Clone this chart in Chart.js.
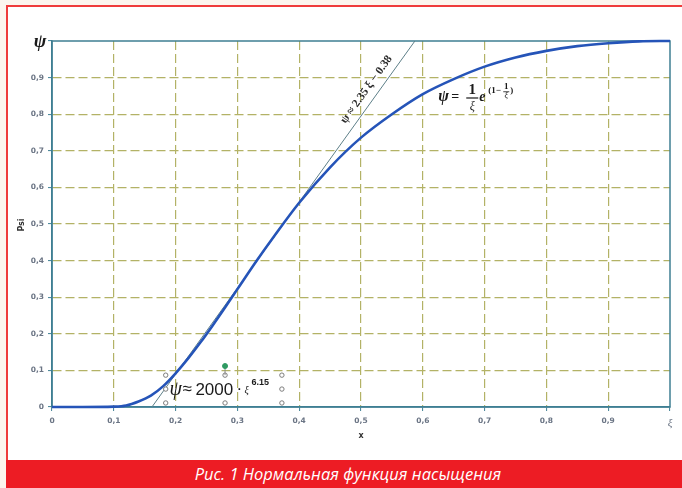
<!DOCTYPE html>
<html>
<head>
<meta charset="utf-8">
<script src="https://cdn.jsdelivr.net/npm/chart.js@4/dist/chart.umd.min.js"></script>
<style>
  html, body { margin: 0; padding: 0; }
  body { width: 682px; height: 488px; background: #fcf5ee; position: relative; overflow: hidden; }
  #frame { position: absolute; left: 6px; top: 5px; width: 676px; height: 455px;
           background: #ffffff; border-left: 2px solid #ef3b3b; border-top: 2px solid #ef3b3b; box-sizing: border-box; }
  #chart { position: absolute; left: 0; top: 0; }
  #caption { position: absolute; left: 6px; top: 460px; width: 676px; height: 28px; background: #ed1c24;
             color: #ffffff; font: italic 16.5px "Open Sans", "Lato", sans-serif; text-align: center;
             line-height: 28px; box-sizing: border-box; padding-left: 8px; }
</style>
</head>
<body>
<div id="frame"></div>
<canvas id="chart" width="682" height="460"></canvas>
<div id="caption">Рис. 1 Нормальная функция насыщения</div>
<script>
// Normal saturation function ψ(ξ), sampled along the curve
const xi  = [0, 0.05, 0.10, 0.12, 0.14, 0.16, 0.18, 0.20, 0.22, 0.24, 0.26, 0.28, 0.30, 0.33, 0.36,
             0.40, 0.45, 0.50, 0.55, 0.60, 0.65, 0.70, 0.75, 0.80, 0.85, 0.90, 0.95, 1.00];
const psi = [0, 0, 0.001, 0.004, 0.015, 0.031, 0.057, 0.092, 0.132, 0.176, 0.223, 0.272, 0.322, 0.397, 0.468,
             0.558, 0.655, 0.736, 0.800, 0.855, 0.896, 0.930, 0.955, 0.973, 0.986, 0.994, 0.999, 1.000];

// Linear approximation ψ = 2.35ξ − 0.38 (from ψ = 0 up to ψ = 1)
const tangentSlope = 2.35;
const tangentIntercept = -0.38;
const tangentPsi = [0, 1];

// Small handles around the power-law formula box
const handleXi  = [0.184, 0.184, 0.184, 0.28, 0.28, 0.372, 0.372, 0.372];
const handlePsi = [0.087, 0.049, 0.011, 0.087, 0.011, 0.087, 0.049, 0.011];
const rotateXi  = [0.28, 0.28];
const rotatePsi = [0.087, 0.112];

// Axis ticks
const xTicks = [0, 0.1, 0.2, 0.3, 0.4, 0.5, 0.6, 0.7, 0.8, 0.9, 1];
const xTickLabels = ['0', '0,1', '0,2', '0,3', '0,4', '0,5', '0,6', '0,7', '0,8', '0,9', 'ξ'];
const yTickLabels = ['0', '0,1', '0,2', '0,3', '0,4', '0,5', '0,6', '0,7', '0,8', '0,9', ''];

const toPoints = (xs, ys) => xs.map((v, i) => ({ x: v, y: ys[i] }));
const tangentXi = tangentPsi.map(p => (p - tangentIntercept) / tangentSlope);

const AXIS = '#3f7f93';
const GRID = '#b3b266';

function labelFor(list, value) {
  const i = Math.round(value * 10);
  return (i >= 0 && i < list.length) ? list[i] : '';
}

const decorations = {
  id: 'decorations',
  beforeDatasetsDraw(chart) {
    const { ctx, chartArea: a } = chart;
    ctx.save();
    ctx.setLineDash([]);
    ctx.strokeStyle = AXIS;
    ctx.lineWidth = 1.5;
    ctx.strokeRect(a.left, a.top, a.right - a.left, a.bottom - a.top);
    ctx.restore();
  },
  afterDatasetsDraw(chart) {
    const { ctx, chartArea: a, scales: { x, y } } = chart;
    ctx.save();

    // ψ symbol at the top of the vertical axis
    ctx.fillStyle = '#1a1a1a';
    ctx.font = 'italic bold 19px "Liberation Serif", serif';
    ctx.textAlign = 'center';
    ctx.textBaseline = 'middle';
    ctx.fillText('ψ', a.left - 12, y.getPixelForValue(1) + 1);

    // axis titles
    ctx.font = 'bold 8px "DejaVu Sans", sans-serif';
    ctx.fillStyle = '#333333';
    ctx.save();
    ctx.translate(22, (a.top + a.bottom) / 2 + 1);
    ctx.rotate(-Math.PI / 2);
    ctx.fillText('Psi', 0, 0);
    ctx.restore();
    ctx.fillText('x', (a.left + a.right) / 2, a.bottom + 29);

    // label along the linear approximation
    const p0 = { x: x.getPixelForValue(tangentXi[0]), y: y.getPixelForValue(tangentPsi[0]) };
    const p1 = { x: x.getPixelForValue(tangentXi[1]), y: y.getPixelForValue(tangentPsi[1]) };
    const ang = Math.atan2(p1.y - p0.y, p1.x - p0.x);
    const atPsi = 0.85;
    const atXi = (atPsi - tangentIntercept) / tangentSlope;
    ctx.save();
    ctx.translate(x.getPixelForValue(atXi), y.getPixelForValue(atPsi));
    ctx.rotate(ang);
    ctx.fillStyle = '#2a2a2a';
    ctx.font = 'bold 11.5px "Liberation Serif", serif';
    ctx.textAlign = 'center';
    ctx.textBaseline = 'alphabetic';
    ctx.fillText('ψ ≈ 2.35 ξ − 0.38', 0, -8);
    ctx.restore();

    // ψ = (1/ξ)·e^(1−1/ξ)
    const fx = x.getPixelForValue(0.625);
    const fy = y.getPixelForValue(0.835);
    ctx.fillStyle = '#1a1a1a';
    ctx.textAlign = 'left';
    ctx.textBaseline = 'alphabetic';
    ctx.font = 'italic bold 16px "Liberation Serif", serif';
    ctx.fillText('ψ', fx, fy);
    ctx.font = 'bold 14px "Liberation Serif", serif';
    ctx.fillText('=', fx + 13, fy);
    ctx.textAlign = 'center';
    ctx.font = 'bold 15px "Liberation Serif", serif';
    ctx.fillText('1', fx + 34, fy - 7);
    ctx.fillRect(fx + 28, fy - 4, 12, 1.2);
    ctx.font = 'italic 12px "Liberation Serif", serif';
    ctx.fillText('ξ', fx + 34, fy + 9);
    ctx.textAlign = 'left';
    ctx.font = 'italic bold 14px "Liberation Serif", serif';
    ctx.fillText('e', fx + 41, fy);
    ctx.font = 'bold 9px "Liberation Serif", serif';
    ctx.fillText('(1−', fx + 50, fy - 8);
    ctx.textAlign = 'center';
    ctx.fillText('1', fx + 68, fy - 12);
    ctx.fillRect(fx + 65, fy - 10, 6, 0.8);
    ctx.font = 'italic 8px "Liberation Serif", serif';
    ctx.fillText('ξ', fx + 68, fy - 3);
    ctx.textAlign = 'left';
    ctx.font = 'bold 9px "Liberation Serif", serif';
    ctx.fillText(')', fx + 72, fy - 8);

    // ψ ≈ 2000 · ξ^6.15
    const gx = x.getPixelForValue(0.19);
    const gy = y.getPixelForValue(0.033);
    ctx.fillStyle = '#1a1a1a';
    ctx.textAlign = 'left';
    ctx.font = 'italic 20px "Liberation Serif", serif';
    ctx.fillText('ψ', gx, gy);
    ctx.font = '17px "Liberation Sans", sans-serif';
    ctx.fillText('≈', gx + 13, gy - 1);
    ctx.fillText('2000', gx + 26, gy);
    ctx.fillText('·', gx + 67, gy - 1);
    ctx.font = 'italic 10px "Liberation Serif", serif';
    ctx.fillText('ξ', gx + 75, gy - 2);
    ctx.font = 'bold 9px "Liberation Sans", sans-serif';
    ctx.fillText('6.15', gx + 82, gy - 10);

    ctx.restore();
  }
};

function gridOptions() {
  return {
    color: c => (c.tick && (c.tick.value === 0 || c.tick.value === 1)) ? 'rgba(0,0,0,0)' : GRID,
    lineWidth: 1.2,
    drawTicks: true,
    tickLength: 4,
    tickColor: AXIS,
    tickBorderDash: [],
    tickWidth: 1
  };
}

new Chart(document.getElementById('chart'), {
  type: 'scatter',
  data: {
    datasets: [
      {
        label: 'ψ',
        data: toPoints(xi, psi),
        showLine: true,
        borderColor: '#2554b8',
        borderWidth: 2.6,
        pointRadius: 0,
        cubicInterpolationMode: 'monotone',
        clip: false,
        order: 1
      },
      {
        label: 'tangent',
        data: toPoints(tangentXi, tangentPsi),
        showLine: true,
        borderColor: '#5d7f88',
        borderWidth: 1,
        pointRadius: 0,
        clip: false,
        order: 2
      },
      {
        label: 'rotate',
        data: toPoints(rotateXi, rotatePsi),
        showLine: true,
        borderColor: '#8a8a8a',
        borderWidth: 1,
        pointRadius: [0, 2.5],
        pointBackgroundColor: '#2f9a62',
        pointBorderColor: '#2f9a62',
        order: 0
      },
      {
        label: 'handles',
        data: toPoints(handleXi, handlePsi),
        showLine: false,
        pointRadius: 2.2,
        pointBorderWidth: 1,
        pointBackgroundColor: '#ffffff',
        pointBorderColor: '#7c7c7c',
        clip: false,
        order: 0
      }
    ]
  },
  options: {
    responsive: false,
    animation: false,
    events: [],
    layout: { padding: { left: 0, top: 41, right: 12, bottom: 0 } },
    plugins: { legend: { display: false }, tooltip: { enabled: false } },
    scales: {
      x: {
        type: 'linear',
        min: 0, max: 1,
        afterFit: s => { s.height = 53; },
        afterBuildTicks: s => { s.ticks = xTicks.map(v => ({ value: v })); },
        // in Chart.js v4 the border dash is applied to the grid lines
        border: { display: true, color: AXIS, width: 1.5, dash: [9, 4] },
        grid: gridOptions(),
        ticks: {
          padding: 6,
          color: '#6a7484',
          maxRotation: 0,
          autoSkip: false,
          font: c => (c.tick && c.tick.value === 1)
            ? { family: '"Liberation Serif", serif', size: 11, style: 'italic' }
            : { family: '"DejaVu Sans", sans-serif', size: 7.5, weight: 'bold' },
          callback: v => labelFor(xTickLabels, v)
        }
      },
      y: {
        type: 'linear',
        min: 0, max: 1,
        afterFit: s => { s.width = 52; },
        afterBuildTicks: s => { s.ticks = xTicks.map(v => ({ value: v })); },
        border: { display: true, color: AXIS, width: 1.5, dash: [9, 4] },
        grid: gridOptions(),
        ticks: {
          padding: 4,
          color: '#6a7484',
          autoSkip: false,
          font: { family: '"DejaVu Sans", sans-serif', size: 7.5, weight: 'bold' },
          callback: v => labelFor(yTickLabels, v)
        }
      }
    }
  },
  plugins: [decorations]
});
</script>
</body>
</html>
